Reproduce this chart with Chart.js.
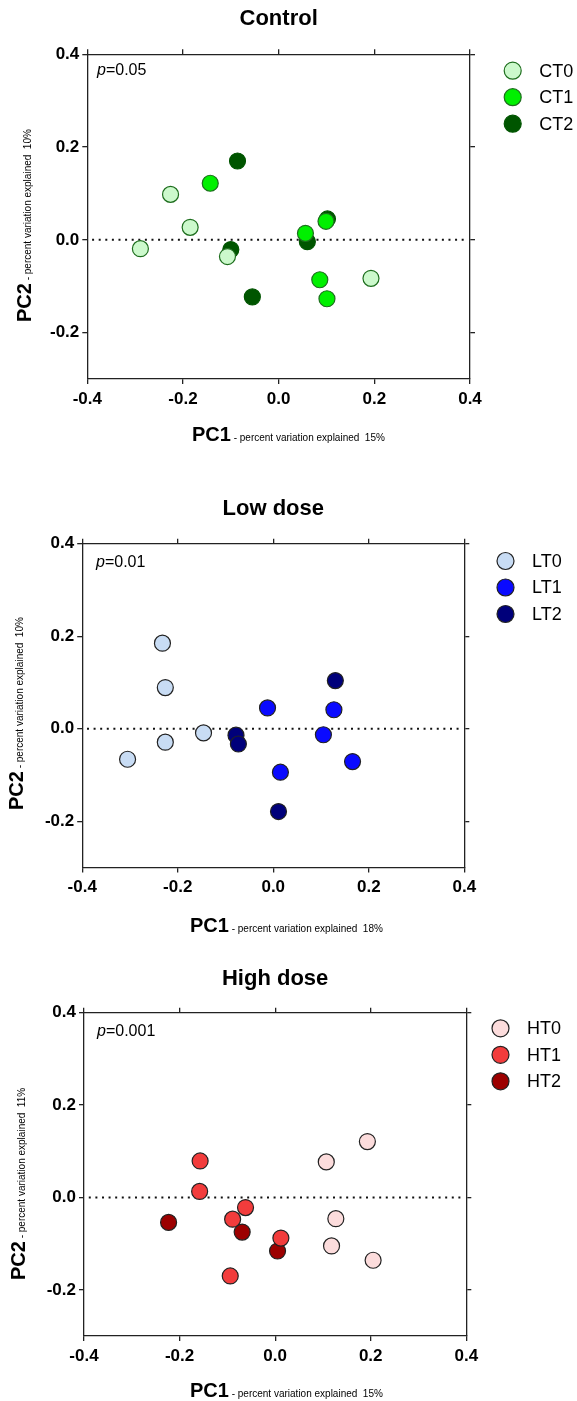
<!DOCTYPE html>
<html>
<head>
<meta charset="utf-8">
<script src="https://cdn.jsdelivr.net/npm/chart.js@4.4.1/dist/chart.umd.min.js"></script>
<style>
  html, body { margin: 0; padding: 0; background: #fff; }
  body { position: relative; width: 577px; height: 1401px; overflow: hidden; }
  canvas { position: absolute; left: 0; }
</style>
</head>
<body>
<canvas id="control" width="577" height="490" style="top:0px"></canvas>
<canvas id="low" width="577" height="470" style="top:490px"></canvas>
<canvas id="high" width="577" height="441" style="top:960px"></canvas>
<script>
// PCA scores (PC1 = x, PC2 = y)
const ct0X = [-0.226, -0.185, -0.289, -0.107, 0.193];
const ct0Y = [0.098, 0.027, -0.019, -0.036, -0.083];
const ct1X = [-0.143, 0.056, 0.099, 0.086, 0.101];
const ct1Y = [0.122, 0.014, 0.040, -0.086, -0.127];
const ct2X = [-0.086, -0.100, 0.060, 0.102, -0.055];
const ct2Y = [0.170, -0.021, -0.004, 0.045, -0.123];

const lt0X = [-0.232, -0.226, -0.226, -0.146, -0.305];
const lt0Y = [0.185, 0.089, -0.029, -0.009, -0.066];
const lt1X = [-0.012, 0.127, 0.105, 0.166, 0.015];
const lt1Y = [0.045, 0.041, -0.013, -0.071, -0.094];
const lt2X = [0.130, -0.078, -0.073, 0.011];
const lt2Y = [0.104, -0.014, -0.033, -0.179];

const ht0X = [0.193, 0.107, 0.127, 0.118, 0.205];
const ht0Y = [0.121, 0.077, -0.046, -0.105, -0.136];
const ht1X = [-0.157, -0.158, -0.062, -0.089, 0.012, -0.094];
const ht1Y = [0.079, 0.013, -0.022, -0.047, -0.088, -0.170];
const ht2X = [-0.223, -0.069, 0.005];
const ht2Y = [-0.054, -0.075, -0.116];

// dotted reference line at PC2 = 0
const zeroLineX = [-0.39, 0.39];

const xTicks = [-0.4, -0.2, 0, 0.2, 0.4];
const yTicks = [-0.2, 0, 0.2, 0.4];
const xRange = [-0.4, 0.4];
const yRange = [-0.3, 0.4];

const FONT = '"Liberation Sans", Arial, Helvetica, sans-serif';

function pts(xs, ys) {
    return xs.map((x, i) => ({ x: x, y: ys[i] }));
}

// titles, p value, axis titles and legend
const panelText = {
    id: 'panelText',
    afterDraw(chart, args, o) {
        const ctx = chart.ctx;
        const area = chart.chartArea;
        ctx.save();
        ctx.fillStyle = '#000';

        ctx.font = 'bold 22px ' + FONT;
        ctx.textAlign = 'center';
        ctx.textBaseline = 'middle';
        ctx.fillText(o.title, (area.left + area.right) / 2, o.titleY);

        ctx.textAlign = 'left';
        ctx.font = 'italic 16px ' + FONT;
        ctx.fillText('p', o.pX, o.pY);
        const pw = ctx.measureText('p').width;
        ctx.font = '16px ' + FONT;
        ctx.fillText('=' + o.pValue, o.pX + pw, o.pY);

        // x axis title
        ctx.textBaseline = 'alphabetic';
        ctx.font = 'bold 20px ' + FONT;
        ctx.fillText('PC1', o.xTitleX, o.xTitleY);
        let w = ctx.measureText('PC1').width;
        ctx.font = '10px ' + FONT;
        ctx.fillText(' - percent variation explained  ' + o.xPct, o.xTitleX + w, o.xTitleY);

        // y axis title
        ctx.save();
        ctx.translate(o.yTitleX, o.yTitleY);
        ctx.rotate(-Math.PI / 2);
        ctx.font = 'bold 20px ' + FONT;
        ctx.fillText('PC2', 0, 0);
        w = ctx.measureText('PC2').width;
        ctx.font = '10px ' + FONT;
        ctx.fillText(' - percent variation explained  ' + o.yPct, w, 0);
        ctx.restore();

        // legend
        const sets = chart.data.datasets.filter(d => d.type !== 'line');
        sets.forEach((d, i) => {
            const cy = o.legendY + i * 26.5;
            ctx.beginPath();
            ctx.arc(o.legendX, cy, 8.5, 0, Math.PI * 2);
            ctx.fillStyle = d.backgroundColor;
            ctx.fill();
            ctx.lineWidth = 1.2;
            ctx.strokeStyle = d.borderColor;
            ctx.stroke();
            ctx.fillStyle = '#000';
            ctx.font = '18px ' + FONT;
            ctx.textBaseline = 'middle';
            ctx.fillText(d.label, o.legendX + 26.5, cy + 1);
        });
        ctx.restore();
    }
};

function axis(pos, showLabels, fit) {
    const horizontal = pos === 'top' || pos === 'bottom';
    return {
        type: 'linear',
        axis: horizontal ? 'x' : 'y',
        position: pos,
        min: horizontal ? xRange[0] : yRange[0],
        max: horizontal ? xRange[1] : yRange[1],
        afterBuildTicks: s => { s.ticks = (horizontal ? xTicks : yTicks).map(v => ({ value: v })); },
        afterFit: fit,
        ticks: {
            display: showLabels,
            color: '#000',
            padding: horizontal ? 5 : 3,
            font: { family: FONT, size: 17, weight: 'bold' },
            callback: v => v.toFixed(1)
        },
        grid: { drawOnChartArea: false, tickLength: 5, color: '#222', lineWidth: 1.3 },
        border: { color: '#222', width: 1.3 }
    };
}

function makePanel(id, sets, box, text) {
    const datasets = sets.map(s => ({
        label: s.label,
        data: pts(s.x, s.y),
        backgroundColor: s.fill,
        borderColor: s.stroke,
        pointRadius: 8,
        pointHoverRadius: 8,
        pointBorderWidth: 1.2
    }));
    datasets.push({
        type: 'line',
        label: 'zero',
        data: zeroLineX.map(x => ({ x: x, y: 0 })),
        borderColor: '#111',
        borderWidth: 2,
        borderDash: [2, 4.6],
        pointRadius: 0,
        fill: false,
        showLine: true
    });

    const W = 577;
    const config = {
        type: 'scatter',
        data: { datasets: datasets },
        options: {
            responsive: false,
            animation: false,
            layout: { padding: 0 },
            plugins: {
                legend: { display: false },
                tooltip: { enabled: false },
                panelText: text
            },
            scales: {
                x: axis('bottom', true, s => { s.height = box.H - box.bottom; }),
                x2: axis('top', false, s => { s.height = box.top; }),
                y: axis('left', true, s => { s.width = box.left; }),
                y2: axis('right', false, s => { s.width = W - box.right; })
            }
        },
        plugins: [panelText]
    };
    return new Chart(document.querySelector(id), config);
}

makePanel('#control', [
    { label: 'CT0', x: ct0X, y: ct0Y, fill: '#ccf9cc', stroke: '#1e6e1e' },
    { label: 'CT1', x: ct1X, y: ct1Y, fill: '#00f000', stroke: '#1e6e1e' },
    { label: 'CT2', x: ct2X, y: ct2Y, fill: '#005500', stroke: '#005500' }
], { H: 490, top: 54.3, bottom: 379, left: 87.3, right: 470 }, {
    title: 'Control', titleY: 19, pValue: '0.05', pX: 97, pY: 71,
    xPct: '15%', yPct: '10%', xTitleX: 192, xTitleY: 441, yTitleX: 31, yTitleY: 322,
    legendX: 512.7, legendY: 70.7
});

makePanel('#low', [
    { label: 'LT0', x: lt0X, y: lt0Y, fill: '#c8dcf4', stroke: '#222' },
    { label: 'LT1', x: lt1X, y: lt1Y, fill: '#0a0aff', stroke: '#222' },
    { label: 'LT2', x: lt2X, y: lt2Y, fill: '#00007a', stroke: '#222' }
], { H: 470, top: 53.7, bottom: 377.5, left: 82.2, right: 464.3 }, {
    title: 'Low dose', titleY: 19, pValue: '0.01', pX: 96, pY: 73,
    xPct: '18%', yPct: '10%', xTitleX: 190, xTitleY: 442, yTitleX: 23, yTitleY: 320,
    legendX: 505.5, legendY: 71
});

makePanel('#high', [
    { label: 'HT0', x: ht0X, y: ht0Y, fill: '#fcdcdc', stroke: '#222' },
    { label: 'HT1', x: ht1X, y: ht1Y, fill: '#f23c3c', stroke: '#222' },
    { label: 'HT2', x: ht2X, y: ht2Y, fill: '#9c0000', stroke: '#222' }
], { H: 441, top: 52.7, bottom: 376, left: 84, right: 466.3 }, {
    title: 'High dose', titleY: 19, pValue: '0.001', pX: 97, pY: 72,
    xPct: '15%', yPct: '11%', xTitleX: 190, xTitleY: 437, yTitleX: 25, yTitleY: 320,
    legendX: 500.5, legendY: 68.3
});
</script>
</body>
</html>
